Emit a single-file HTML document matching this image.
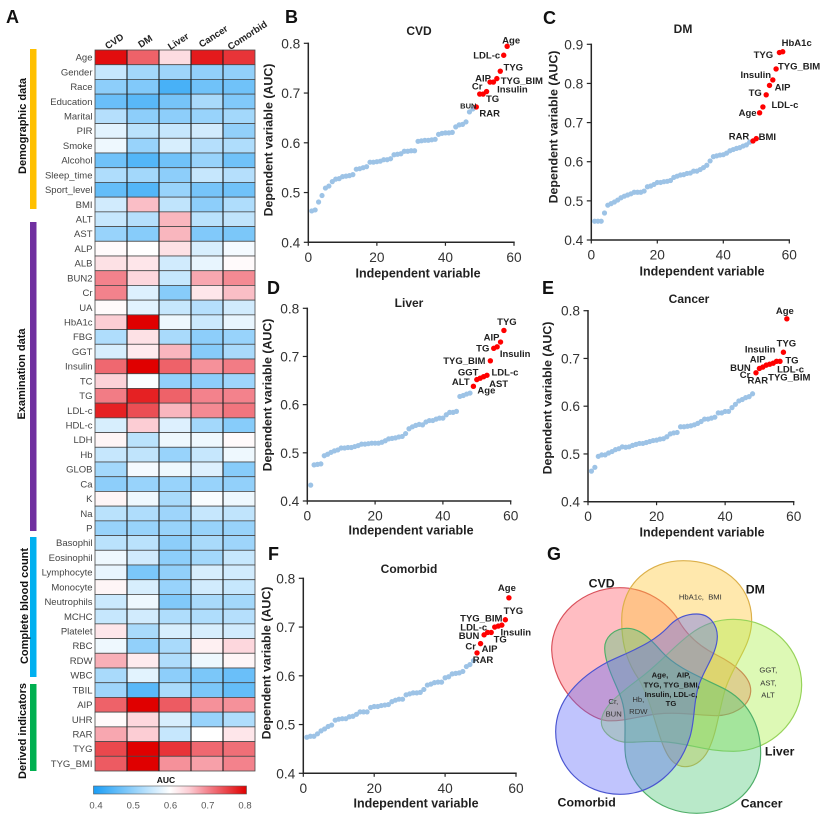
<!DOCTYPE html>
<html lang="en">
<head>
<meta charset="utf-8">
<title>AUC heatmap, ranked scatter plots and Venn diagram</title>
<style>
html,body{margin:0;padding:0;background:#fff;}
body{width:829px;height:819px;overflow:hidden;font-family:"Liberation Sans",Arial,sans-serif;}
svg{display:block;filter:blur(0.3px);}
text{font-family:"Liberation Sans",Arial,sans-serif;}
.letter{font-size:18px;font-weight:bold;fill:#111;}
.group{font-size:11px;font-weight:bold;fill:#111;}
.vn{font-size:12.5px;font-weight:bold;fill:#1a1a1a;text-anchor:middle;}
.vs{font-size:8px;fill:#333;text-anchor:middle;}
.vb{font-size:7.6px;font-weight:bold;fill:#1a1a1a;text-anchor:middle;}
</style>
</head>
<body>
<svg id="figure" xmlns="http://www.w3.org/2000/svg" width="829" height="819" viewBox="0 0 829 819">
  <defs>
    <linearGradient id="aucGradient" x1="0" y1="0" x2="1" y2="0">
      <stop offset="0" stop-color="#1a9df5"/>
      <stop offset="0.5" stop-color="#ffffff"/>
      <stop offset="0.625" stop-color="#fccdd4"/>
      <stop offset="0.75" stop-color="#f3828c"/>
      <stop offset="1" stop-color="#e00000"/>
    </linearGradient>
  </defs>

  <text class="letter" x="6" y="23">A</text>
  <text class="letter" x="285" y="23">B</text>
  <text class="letter" x="543" y="24">C</text>
  <text class="letter" x="267" y="294">D</text>
  <text class="letter" x="542" y="294">E</text>
  <text class="letter" x="268" y="560">F</text>
  <text class="letter" x="547" y="560">G</text>

  <rect x="30" y="49" width="6.5" height="160" fill="#FFC000"/>
  <rect x="30" y="222" width="6.5" height="309" fill="#7030A0"/>
  <rect x="30" y="537" width="6.5" height="140" fill="#00B0F0"/>
  <rect x="30" y="684" width="6.5" height="87" fill="#00B050"/>
  <text class="group" text-anchor="middle" transform="translate(26,126) rotate(-90)">Demographic data</text>
  <text class="group" text-anchor="middle" transform="translate(25,374) rotate(-90)">Examination data</text>
  <text class="group" text-anchor="middle" transform="translate(28,606) rotate(-90)">Complete blood count</text>
  <text class="group" text-anchor="middle" transform="translate(26,731) rotate(-90)">Derived indicators</text>

  <g id="heatmap"></g>
  <g id="colorbar"></g>
  <g id="scatters"></g>

  <g id="venn" transform="translate(540,540) scale(0.33333)">
    <path fill="rgba(255,75,90,0.37)" stroke="#d9505a" stroke-width="3.5" d="M240 143 C320 143 385 190 415 240 C440 285 480 320 530 345 C590 375 635 415 632 455 C628 505 570 527 530 527 C480 527 420 515 350 522 C290 530 250 545 200 542 C140 535 40 450 35 330 C35 225 130 143 240 143 Z"/>
    <path fill="rgba(255,200,60,0.42)" stroke="#dcb04a" stroke-width="3.5" d="M430 62 C540 62 635 130 635 240 C635 320 580 370 555 450 C535 520 530 580 505 630 C485 670 455 680 435 680 C395 680 375 640 355 575 C335 510 320 450 285 400 C255 350 245 300 245 240 C245 130 330 62 430 62 Z"/>
    <path fill="rgba(170,240,70,0.40)" stroke="#97d35a" stroke-width="3.5" d="M580 238 C700 238 785 330 785 435 C785 545 690 634 580 634 C500 634 450 612 380 606 C320 600 280 610 250 606 C210 600 183 570 184 545 C186 500 240 460 290 422 C350 380 400 320 450 283 C490 252 535 238 580 238 Z"/>
    <path fill="rgba(80,200,120,0.40)" stroke="#4fae68" stroke-width="3.5" d="M470 820 C350 820 258 730 255 630 C253 570 262 520 240 465 C222 420 195 370 194 325 C194 290 225 265 260 265 C300 265 330 295 365 335 C410 385 480 410 550 445 C620 480 662 550 662 640 C662 740 580 820 470 820 Z"/>
    <path fill="rgba(90,100,250,0.38)" stroke="#4a55d0" stroke-width="3.5" d="M240 763 C130 763 47 680 47 575 C47 480 120 410 205 365 C280 330 340 310 390 255 C415 230 445 222 470 222 C510 222 532 255 532 290 C532 340 490 390 475 440 C460 490 465 540 450 590 C420 690 340 763 240 763 Z"/>
    <text class="vn" style="font-size:37px" x="185" y="143">CVD</text>
    <text class="vn" style="font-size:37px" x="646" y="160">DM</text>
    <text class="vn" style="font-size:37px" x="719" y="647">Liver</text>
    <text class="vn" style="font-size:37px" x="140" y="800">Comorbid</text>
    <text class="vn" style="font-size:37px" x="665" y="803">Cancer</text>
    <text class="vs" style="font-size:23px" x="481" y="178" xml:space="preserve">HbA1c,  BMI</text>
    <text class="vs" style="font-size:23px" x="685" y="398">GGT,</text>
    <text class="vs" style="font-size:23px" x="685" y="437">AST,</text>
    <text class="vs" style="font-size:23px" x="684" y="473">ALT</text>
    <text class="vs" style="font-size:23px" x="220" y="492">Cr,</text>
    <text class="vs" style="font-size:23px" x="221" y="529">BUN</text>
    <text class="vs" style="font-size:23px" x="295" y="486">Hb,</text>
    <text class="vs" style="font-size:23px" x="295" y="522">RDW</text>
    <text class="vb" style="font-size:23px" x="393" y="413" xml:space="preserve">Age,    AIP,</text>
    <text class="vb" style="font-size:23px" x="395" y="442">TYG, TYG_BMI,</text>
    <text class="vb" style="font-size:23px" x="393" y="471">Insulin, LDL-c,</text>
    <text class="vb" style="font-size:23px" x="393" y="498">TG</text>
  </g>
</svg>

<script>
// ---------- Heatmap data ----------
const heatmapVariables = ["Age","Gender","Race","Education","Marital","PIR","Smoke","Alcohol","Sleep_time","Sport_level","BMI","ALT","AST","ALP","ALB","BUN2","Cr","UA","HbA1c","FBG","GGT","Insulin","TC","TG","LDL-c","HDL-c","LDH","Hb","GLOB","Ca","K","Na","P","Basophil","Eosinophil","Lymphocyte","Monocyte","Neutrophils","MCHC","Platelet","RBC","RDW","WBC","TBIL","AIP","UHR","RAR","TYG","TYG_BMI"];
const heatmapConditions = ["CVD","DM","Liver","Cancer","Comorbid"];
const heatCvd = [.79,.55,.50,.47,.535,.575,.585,.475,.53,.465,.56,.55,.51,.605,.63,.70,.70,.605,.65,.53,.565,.72,.645,.705,.775,.565,.61,.55,.52,.50,.61,.54,.51,.54,.585,.58,.61,.555,.55,.625,.585,.67,.525,.515,.725,.605,.675,.745,.73];
const heatDm = [.725,.52,.49,.455,.50,.54,.51,.45,.52,.45,.66,.535,.495,.60,.625,.64,.57,.575,.80,.63,.62,.80,.595,.775,.74,.65,.54,.545,.59,.51,.585,.53,.51,.54,.56,.485,.565,.585,.56,.525,.505,.62,.575,.455,.80,.64,.65,.80,.80];
const heatLiver = [.635,.515,.44,.48,.50,.55,.565,.475,.50,.51,.545,.665,.665,.63,.56,.55,.495,.55,.585,.525,.665,.725,.505,.725,.665,.57,.585,.51,.585,.51,.525,.515,.51,.50,.50,.505,.51,.49,.53,.565,.525,.53,.50,.525,.73,.565,.55,.76,.69];
const heatCancer = [.78,.505,.475,.525,.51,.56,.535,.51,.55,.48,.50,.54,.49,.565,.58,.675,.625,.535,.555,.50,.495,.69,.50,.70,.695,.52,.585,.55,.57,.51,.595,.55,.51,.525,.52,.565,.56,.525,.53,.565,.615,.585,.485,.485,.69,.51,.60,.72,.68];
const heatComorbid = [.76,.505,.475,.49,.52,.505,.53,.475,.535,.475,.53,.545,.485,.59,.605,.695,.66,.56,.58,.51,.525,.705,.515,.70,.71,.495,.605,.585,.495,.505,.585,.545,.51,.515,.55,.56,.55,.52,.535,.56,.64,.61,.47,.465,.69,.53,.625,.715,.70];
const colorbarTicks = [0.4,0.5,0.6,0.7,0.8];

// ---------- Scatter data (AUC of ranked variables 1..58) ----------
const cvdAuc = [.463,.465,.481,.494,.509,.513,.522,.527,.528,.532,.533,.534,.536,.547,.548,.55,.552,.561,.561,.562,.563,.566,.566,.568,.576,.577,.578,.583,.583,.584,.584,.603,.604,.605,.605,.606,.607,.617,.619,.62,.62,.621,.632,.636,.637,.642,.662,.668,.672,.698,.698,.703,.722,.722,.729,.744,.776,.794];
const dmAuc = [.448,.448,.448,.469,.489,.493,.497,.502,.508,.512,.515,.518,.522,.522,.522,.525,.536,.538,.542,.547,.547,.549,.55,.552,.56,.563,.566,.567,.57,.571,.576,.576,.58,.585,.591,.602,.613,.615,.617,.618,.622,.628,.631,.634,.636,.64,.643,.65,.653,.659,.725,.74,.771,.795,.809,.837,.879,.881];
const liverAuc = [.433,.475,.476,.477,.494,.497,.501,.504,.506,.51,.51,.511,.511,.513,.515,.518,.518,.519,.52,.52,.52,.522,.525,.529,.53,.531,.533,.534,.54,.55,.554,.557,.559,.558,.564,.567,.567,.57,.572,.572,.579,.584,.584,.586,.617,.619,.622,.624,.638,.652,.655,.658,.661,.691,.717,.72,.73,.754];
const cancerAuc = [.464,.472,.495,.498,.498,.502,.505,.509,.511,.515,.514,.515,.518,.52,.522,.522,.524,.526,.528,.529,.531,.532,.536,.542,.544,.545,.557,.557,.558,.559,.561,.564,.568,.573,.573,.575,.577,.586,.586,.589,.589,.597,.604,.611,.614,.618,.62,.626,.67,.679,.682,.686,.688,.69,.694,.694,.713,.783];
const comorbidAuc = [.474,.476,.476,.481,.487,.491,.496,.499,.509,.511,.512,.512,.516,.517,.521,.526,.526,.526,.535,.537,.537,.539,.54,.541,.547,.55,.552,.552,.561,.563,.565,.565,.566,.572,.581,.583,.586,.587,.587,.596,.598,.604,.605,.606,.609,.619,.623,.631,.647,.666,.684,.689,.689,.7,.702,.704,.715,.76];

const cvdNames = ["BUN","RAR","Cr","TG","AIP","Insulin","TYG_BIM","TYG","LDL-c","Age"];
const dmNames = ["RAR","BMI","Age","LDL-c","TG","AIP","Insulin","TYG_BIM","TYG","HbA1c"];
const liverNames = ["Age","ALT","GGT","AST","LDL-c","TYG_BIM","TG","Insulin","AIP","TYG"];
const cancerNames = ["Cr","BUN","RAR","TYG_BIM","AIP","Insulin","LDL-c","TG","TYG","Age"];
const comorbidNames = ["RAR","AIP","BUN","Cr","TG","LDL-c","TYG_BIM","Insulin","TYG","Age"];

const xTickValues = [0,20,40,60];
const yTicksFrom04To08 = [0.4,0.5,0.6,0.7,0.8];
const yTicksFrom04To09 = [0.4,0.5,0.6,0.7,0.8,0.9];
const firstHighlightedRank = 49;

const SVGNS = "http://www.w3.org/2000/svg";
function mk(parent, tag, attrs, txt) {
  const e = document.createElementNS(SVGNS, tag);
  for (const k in attrs) e.setAttribute(k, attrs[k]);
  if (txt !== undefined) e.textContent = txt;
  parent.appendChild(e);
  return e;
}
function slug(s) { return String(s).toLowerCase().replace(/[^a-z0-9]+/g, "-"); }

// ---------- Heatmap drawing ----------
const heatBox = { left: 95, top: 50, cellW: 32, cellH: 721 / 49 };
const heatGroup = document.getElementById("heatmap");
const heatColumns = [heatCvd, heatDm, heatLiver, heatCancer, heatComorbid];
function heatColor(v) {
  const stops = [[0.4,[26,157,245]],[0.6,[255,255,255]],[0.65,[252,205,212]],[0.7,[243,130,140]],[0.8,[224,0,0]]];
  const u = Math.max(0.4, Math.min(0.8, v));
  let i = 0;
  while (i < stops.length - 2 && u > stops[i + 1][0]) i++;
  const a = stops[i], b = stops[i + 1];
  const f = (u - a[0]) / (b[0] - a[0]);
  return "rgb(" + a[1].map((c, k) => Math.round(c + (b[1][k] - c) * f)).join(",") + ")";
}
heatmapVariables.forEach((name, r) => {
  const y = heatBox.top + r * heatBox.cellH;
  const lab = mk(heatGroup, "text", { x: 92.5, y: y + heatBox.cellH / 2 + 3.3, "text-anchor": "end", "font-size": 9.5, fill: "#444" }, name);
  
  
  heatColumns.forEach((col, c) => {
    const cell = mk(heatGroup, "rect", { x: heatBox.left + c * heatBox.cellW, y: y, width: heatBox.cellW, height: heatBox.cellH, fill: heatColor(col[r]), stroke: "#4a4a4a", "stroke-width": 0.8 });
    
    
  });
});
heatmapConditions.forEach((name, c) => {
  if (c === 0) return;
  const lx = heatBox.left + c * heatBox.cellW;
  const sep = mk(heatGroup, "line", { x1: lx, x2: lx, y1: heatBox.top, y2: heatBox.top + heatmapVariables.length * heatBox.cellH, stroke: "#1e1e1e", "stroke-width": 1.1 });
  
  
});
const headerAnchors = [[116,44],[147,44],[180,44],[215,39],[249,38]];
heatmapConditions.forEach((name, c) => {
  const t = mk(heatGroup, "text", { "text-anchor": "middle", "font-size": 9.5, "font-weight": "bold", fill: "#222", transform: "translate(" + headerAnchors[c][0] + "," + headerAnchors[c][1] + ") rotate(-33)" }, name);
  
  
});

// ---------- Colorbar ----------
const colorbarGroup = document.getElementById("colorbar");
function colorbarX(v) { return 96 + (v - 0.4) * (245 - 96) / 0.4; }
const cbTitle = mk(colorbarGroup, "text", { x: 166, y: 783, "text-anchor": "middle", "font-size": 8.5, "font-weight": "bold", fill: "#111" }, "AUC");


const cbRect = mk(colorbarGroup, "rect", { x: 93.5, y: 786, width: 153, height: 8, fill: "url(#aucGradient)", stroke: "#555", "stroke-width": 0.6 });


colorbarTicks.forEach(v => {
  const t = mk(colorbarGroup, "text", { x: colorbarX(v), y: 808.5, "text-anchor": "middle", "font-size": 9.5, fill: "#555" }, v.toFixed(1));
  
  
});

// ---------- Scatter panels ----------
function drawScatter(p) {
  const root = mk(document.getElementById("scatters"), "g", {});
  
  
  const yMin = p.yTicks[0], yMax = p.yTicks[p.yTicks.length - 1];
  const sx = v => p.x0 + (v / 60) * (p.x60 - p.x0);
  const sy = v => p.yBottom - ((v - yMin) / (yMax - yMin)) * (p.yBottom - p.yTop);

  const title = mk(root, "text", { x: p.titleX, y: p.titleY + 4, "text-anchor": "middle", "font-size": 12, "font-weight": "bold", fill: "#222" }, p.title);
  
  

  const yAxis = mk(root, "line", { x1: p.x0, x2: p.x0, y1: p.yTop - 0.7, y2: p.yBottom + 0.7, stroke: "#262626", "stroke-width": 1.5 });
  
  
  const xAxis = mk(root, "line", { x1: p.x0 - 0.7, x2: p.x60 + 0.7, y1: p.yBottom, y2: p.yBottom, stroke: "#262626", "stroke-width": 1.5 });
  
  

  p.yTicks.forEach(v => {
    const tick = mk(root, "line", { x1: p.x0 - 4.5, x2: p.x0, y1: sy(v), y2: sy(v), stroke: "#262626", "stroke-width": 1.2 });
    
    
    const lab = mk(root, "text", { x: p.x0 - 8, y: sy(v) + 5, "text-anchor": "end", "font-size": 13.7, fill: "#333" }, v.toFixed(1));
    
    
  });
  xTickValues.forEach(v => {
    const tick = mk(root, "line", { x1: sx(v), x2: sx(v), y1: p.yBottom, y2: p.yBottom + 3.5, stroke: "#262626", "stroke-width": 1.2 });
    
    
    const lab = mk(root, "text", { x: sx(v), y: p.yBottom + 19.5, "text-anchor": "middle", "font-size": 13.7, fill: "#333" }, v);
    
    
  });

  const xTitle = mk(root, "text", { x: p.xTitleX, y: p.xTitleY + 4.5, "text-anchor": "middle", "font-size": 12.5, "font-weight": "bold", fill: "#222" }, "Independent variable");
  
  
  const yTitle = mk(root, "text", { "text-anchor": "middle", "font-size": 12.4, "font-weight": "bold", fill: "#222", transform: "translate(" + (p.yTitleX + 4.5) + "," + p.yTitleY + ") rotate(-90)" }, "Dependent variable (AUC)");
  
  

  p.values.forEach((v, i) => {
    const rank = i + 1;
    const hi = rank >= firstHighlightedRank;
    const dot = mk(root, "circle", { cx: sx(rank), cy: sy(v), r: hi ? 2.7 : 2.6, fill: hi ? "#ff0000" : "#9dc3e6" });
    
    
  });
  p.names.forEach((name, i) => {
    const rank = firstHighlightedRank + i;
    const small = p.smallNames.indexOf(name) >= 0;
    const t = mk(root, "text", { x: sx(rank) + p.nudges[i][0], y: sy(p.values[rank - 1]) + p.nudges[i][1] + 3.3, "text-anchor": "middle", "font-size": small ? 7.5 : 9.5, "font-weight": "bold", fill: "#222" }, name);
    
    
  });
}

drawScatter({ title: "CVD", values: cvdAuc, names: cvdNames, smallNames: ["BUN"], yTicks: yTicksFrom04To08,
  x0: 308.3, x60: 514, yTop: 43.3, yBottom: 242.3, titleX: 419, titleY: 31, xTitleX: 418, xTitleY: 273, yTitleX: 268, yTitleY: 140,
  nudges: [[-8,-2],[10,19],[-6,-8],[6,7],[-7,-4],[19,7],[25,2],[13,-4],[-17,0],[4,-6]] });
drawScatter({ title: "DM", values: dmAuc, names: dmNames, smallNames: [], yTicks: yTicksFrom04To09,
  x0: 591.3, x60: 789.3, yTop: 44.3, yBottom: 240, titleX: 683, titleY: 29, xTitleX: 702, xTitleY: 271, yTitleX: 553, yTitleY: 127,
  nudges: [[-14,-5],[11,-2],[-12,0],[22,-2],[-11,-2],[13,2],[-17,-5],[23,-3],[-16,2],[14,-9]] });
drawScatter({ title: "Liver", values: liverAuc, names: liverNames, smallNames: [], yTicks: yTicksFrom04To08,
  x0: 307.3, x60: 510.7, yTop: 308.3, yBottom: 501, titleX: 409, titleY: 303, xTitleX: 411, xTitleY: 530, yTitleX: 267, yTitleY: 395,
  nudges: [[13,4],[-16,2],[-12,-6],[15,7],[18,-3],[-26,0],[-11,0],[18,7],[-9,-5],[3,-9]] });
drawScatter({ title: "Cancer", values: cancerAuc, names: cancerNames, smallNames: [], yTicks: yTicksFrom04To08,
  x0: 588, x60: 793.7, yTop: 310.7, yBottom: 501.7, titleX: 689, titleY: 299, xTitleX: 702, xTitleY: 532, yTitleX: 547, yTitleY: 398,
  nudges: [[-11,2],[-19,-1],[-5,13],[23,12],[-12,-5],[-13,-14],[14,8],[12,-1],[3,-9],[-2,-8]] });
drawScatter({ title: "Comorbid", values: comorbidAuc, names: comorbidNames, smallNames: [], yTicks: yTicksFrom04To08,
  x0: 303.3, x60: 516, yTop: 578.3, yBottom: 773.3, titleX: 409, titleY: 569, xTitleX: 416, xTitleY: 803, yTitleX: 266, yTitleY: 663,
  nudges: [[6,7],[9,5],[-15,1],[-17,14],[9,7],[-21,0],[-17,-8],[14,7],[8,-9],[-2,-10]] });
</script>
</body>
</html>
